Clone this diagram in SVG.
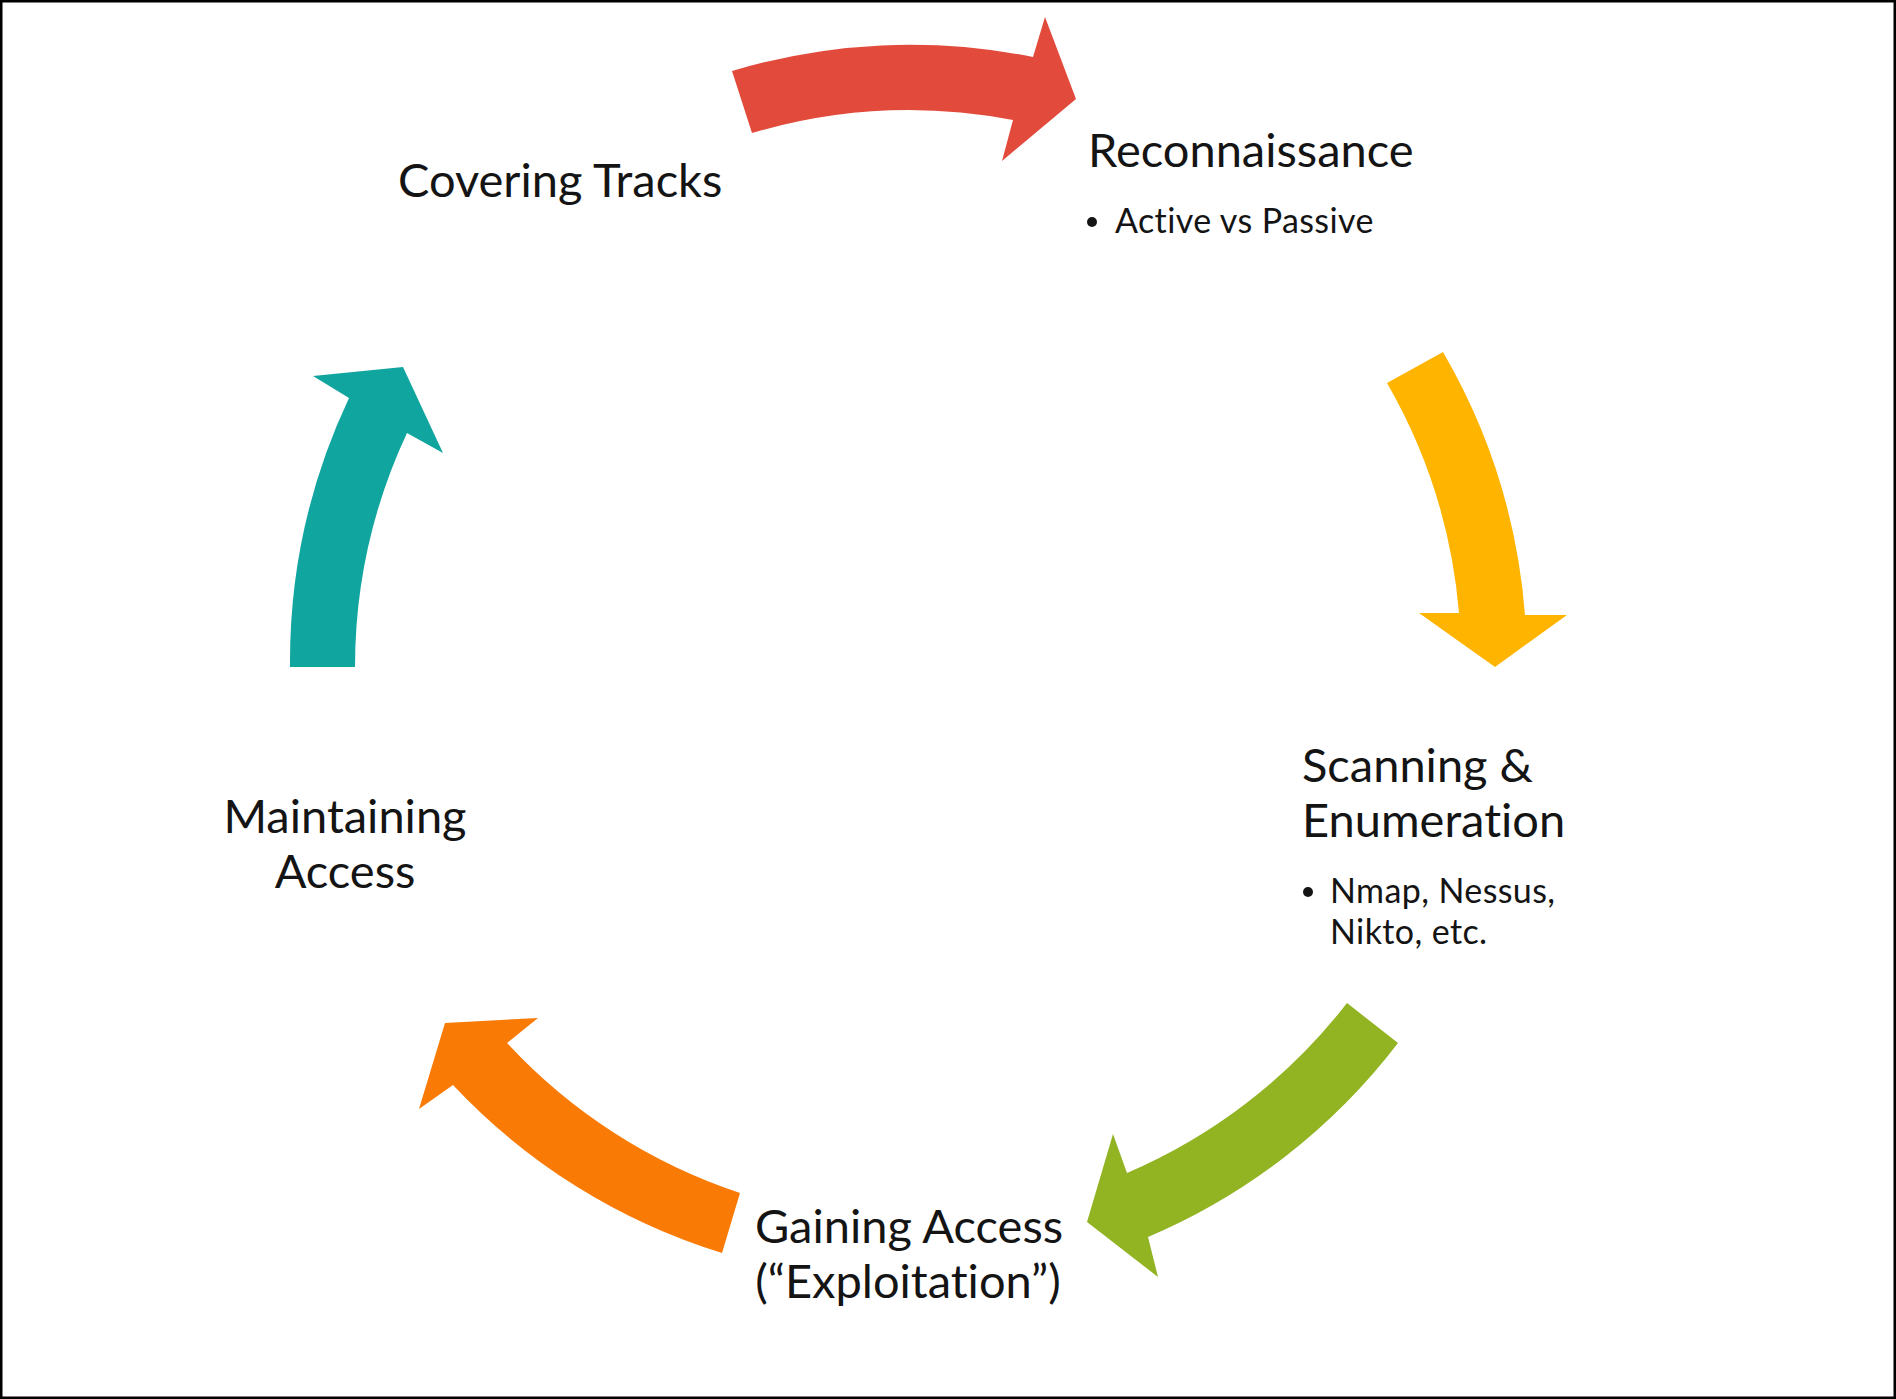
<svg xmlns="http://www.w3.org/2000/svg" width="1896" height="1399" viewBox="0 0 1896 1399">
  <style>
    text { font-family: Lato, "Liberation Sans", sans-serif; fill: #141414; font-variant-ligatures: none; }
    .title { font-size: 47px; }
    .note { font-size: 34px; letter-spacing: 0.4px; }
    .mid { text-anchor: middle; }
    .dot { fill: #141414; }
  </style>
  <rect x="1" y="1" width="1894" height="1397" fill="#ffffff" stroke="#000000" stroke-width="3"/>

  <!-- curved block arrows around a common centre (910,660), outer r 619, inner r 554 -->
  <g id="connectors">
    <path id="arrow-recon" fill="#E24A3C" d="M732,71 A619,619 0 0 1 1033,57 L1045,17 L1076,99 L1002,161 L1013,120 A554,554 0 0 0 752,133 Z"/>
    <path id="arrow-scan" fill="#FFB400" d="M1443,352 A619,619 0 0 1 1525,615 L1567,615 L1495,667 L1419,613 L1459,613 A554,554 0 0 0 1387,383 Z"/>
    <path id="arrow-gain" fill="#92B322" d="M1398,1043 A619,619 0 0 1 1148,1237 L1158,1277 L1087,1222 L1113,1134 L1127,1173 A554,554 0 0 0 1347,1003 Z"/>
    <path id="arrow-maintain" fill="#FA7A06" d="M722,1253 A619,619 0 0 1 453,1085 L419,1109 L445,1023 L538,1018 L507,1043 A554,554 0 0 0 740,1193 Z"/>
    <path id="arrow-cover" fill="#11A5A0" d="M290,667 A619,619 0 0 1 349,398 L313,376 L403,367 L443,453 L407,433 A554,554 0 0 0 355,667 Z"/>
  </g>

  <g id="reconnaissance">
    <text class="title" x="1088" y="167">Reconnaissance</text>
    <circle class="dot" cx="1092" cy="222" r="5"/>
    <text class="note" x="1115" y="233">Active vs Passive</text>
  </g>

  <g id="scanning">
    <text class="title" x="1302" y="782">Scanning &amp;</text>
    <text class="title" x="1302" y="837">Enumeration</text>
    <circle class="dot" cx="1308" cy="892" r="5"/>
    <text class="note" x="1330" y="903">Nmap, Nessus,</text>
    <text class="note" x="1330" y="944">Nikto, etc.</text>
  </g>

  <g id="gaining-access">
    <text class="title mid" x="909" y="1243">Gaining Access</text>
    <text class="title mid" x="908" y="1298">(“Exploitation”)</text>
  </g>

  <g id="maintaining-access">
    <text class="title mid" x="345" y="833">Maintaining</text>
    <text class="title mid" x="345" y="888">Access</text>
  </g>

  <g id="covering-tracks">
    <text class="title" x="398" y="197">Covering Tracks</text>
  </g>
</svg>
